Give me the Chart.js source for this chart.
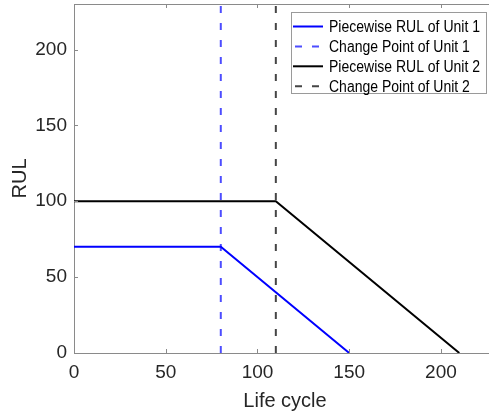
<!DOCTYPE html>
<html>
<head>
<meta charset="utf-8">
<script src="https://cdn.jsdelivr.net/npm/chart.js@4"></script>
<style>
  html, body { margin: 0; padding: 0; background: #fff; overflow: hidden; }
  #wrap { width: 489px; height: 415px; overflow: hidden; }
</style>
</head>
<body>
<div id="wrap"><canvas id="rul_canvas" width="500" height="415"></canvas></div>
<script>
// piecewise RUL targets for two units
const unit1_cycles = [0, 80, 150];
const unit1_rul = [70, 70, 0];
const unit2_cycles = [0, 110, 210];
const unit2_rul = [100, 100, 0];
// change points, drawn as vertical lines over the whole y range
const change_points = [80, 110];
const series_labels = [
  "Piecewise RUL of Unit 1",
  "Change Point of Unit 1",
  "Piecewise RUL of Unit 2",
  "Change Point of Unit 2"
];
const x_ticks = [0, 50, 100, 150, 200];
const y_ticks = [0, 50, 100, 150, 200];
const x_max = 230;
const y_max = 230;

const FONT = "'Liberation Sans', Arial, Helvetica, sans-serif";
const AXIS_COLOR = "#8a8a8a";
const TEXT_COLOR = "#262626";

function toPoints(xs, ys){
  return xs.map((x, i) => ({ x: x, y: ys[i] }));
}

function vline(x){
  return [{ x: x, y: 0 }, { x: x, y: y_max }];
}

// matlab-ish box: inward ticks on bottom/left/top and a top border line
const boxTicks = {
  id: "boxTicks",
  afterDraw(chart){
    const ctx = chart.ctx;
    const area = chart.chartArea;
    const xs = chart.scales.x, ys = chart.scales.y;
    const len = 4;
    ctx.save();
    ctx.strokeStyle = AXIS_COLOR;
    ctx.lineWidth = 1;
    ctx.beginPath();
    ctx.moveTo(area.left, area.top + 0.5);
    ctx.lineTo(area.right, area.top + 0.5);
    for(const v of x_ticks){
      const px = Math.round(xs.getPixelForValue(v)) + 0.5;
      ctx.moveTo(px, area.bottom);
      ctx.lineTo(px, area.bottom - len);
      ctx.moveTo(px, area.top);
      ctx.lineTo(px, area.top + len);
    }
    for(const v of y_ticks){
      const py = Math.round(ys.getPixelForValue(v)) + 0.5;
      ctx.moveTo(area.left, py);
      ctx.lineTo(area.left + len, py);
    }
    ctx.stroke();
    ctx.restore();
  }
};

// legend box in the upper right corner
const boxLegend = {
  id: "boxLegend",
  afterDraw(chart){
    const ctx = chart.ctx;
    const left = 291, top = 12, right = 487, bottom = 94;
    const rowH = 19.9;
    ctx.save();
    ctx.fillStyle = "#fff";
    ctx.fillRect(left, top, right - left, bottom - top);
    ctx.strokeStyle = "#9a9a9a";
    ctx.lineWidth = 1;
    ctx.strokeRect(left + 0.5, top + 0.5, right - left - 1, bottom - top - 1);
    ctx.font = "16px " + FONT;
    ctx.textBaseline = "alphabetic";
    chart.data.datasets.forEach((ds, i) => {
      const cy = top + 14.5 + i * rowH;
      ctx.strokeStyle = ds.borderColor;
      ctx.lineWidth = ds.borderWidth;
      ctx.setLineDash(ds.borderDash || []);
      ctx.lineDashOffset = 0;
      ctx.beginPath();
      if(ds.borderDash){
        ctx.moveTo(left + 4, cy);
        ctx.lineTo(left + 30, cy);
      } else {
        ctx.moveTo(left + 2, cy);
        ctx.lineTo(left + 32, cy);
      }
      ctx.stroke();
      ctx.setLineDash([]);
      ctx.fillStyle = "#000";
      // helvetica runs a bit narrower than liberation sans
      const w = ctx.measureText(ds.label).width * 0.875;
      ctx.fillText(ds.label, left + 38, cy + 5.8, w);
    });
    ctx.restore();
  }
};

const data = {
  datasets: [
    {
      label: series_labels[0],
      data: toPoints(unit1_cycles, unit1_rul),
      borderColor: "#0000ff",
      borderWidth: 2
    },
    {
      label: series_labels[1],
      data: vline(change_points[0]),
      borderColor: "#4d4dff",
      borderWidth: 2,
      borderDash: [7, 10]
    },
    {
      label: series_labels[2],
      data: toPoints(unit2_cycles, unit2_rul),
      borderColor: "#000000",
      borderWidth: 2
    },
    {
      label: series_labels[3],
      data: vline(change_points[1]),
      borderColor: "#454545",
      borderWidth: 2,
      borderDash: [7, 10]
    }
  ]
};

const chart = new Chart(document.getElementById("rul_canvas"), {
  type: "line",
  data: data,
  plugins: [boxTicks, boxLegend],
  options: {
    responsive: false,
    animation: false,
    devicePixelRatio: 1,
    layout: { padding: { top: 4, right: 4, left: 0, bottom: 0 } },
    elements: { point: { radius: 0 }, line: { tension: 0 } },
    plugins: { legend: { display: false }, tooltip: { enabled: false } },
    scales: {
      x: {
        type: "linear",
        min: 0,
        max: x_max,
        afterBuildTicks: s => { s.ticks = x_ticks.map(v => ({ value: v })); },
        afterFit: s => { s.height = 62; s.paddingLeft = 0; s.paddingRight = 0; },
        grid: { display: false, drawTicks: false },
        border: { display: true, color: AXIS_COLOR, width: 1 },
        ticks: { color: TEXT_COLOR, font: { family: FONT, size: 19 }, padding: 8, maxRotation: 0, autoSkip: false },
        title: { display: true, text: "Life cycle", color: TEXT_COLOR, font: { family: FONT, size: 20 }, padding: { top: 0, bottom: 2 } }
      },
      y: {
        type: "linear",
        min: 0,
        max: y_max,
        afterBuildTicks: s => { s.ticks = y_ticks.map(v => ({ value: v })); },
        afterFit: s => { s.width = 74; s.paddingTop = 0; s.paddingBottom = 0; },
        grid: { display: false, drawTicks: false },
        border: { display: true, color: AXIS_COLOR, width: 1 },
        ticks: { color: TEXT_COLOR, font: { family: FONT, size: 19 }, padding: 7, autoSkip: false },
        title: { display: true, text: "RUL", color: TEXT_COLOR, font: { family: FONT, size: 20 }, padding: { top: 8, bottom: 0 } }
      }
    }
  }
});
</script>
</body>
</html>
